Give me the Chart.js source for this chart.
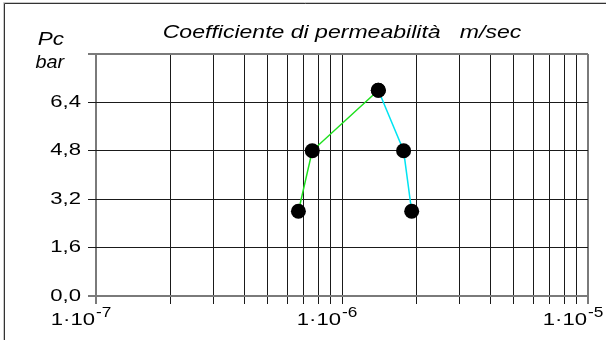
<!DOCTYPE html>
<html><head><meta charset="utf-8">
<script src="https://cdn.jsdelivr.net/npm/chart.js@4"></script>
<style>html,body{margin:0;padding:0;background:#fff}canvas{display:block}</style>
</head><body>
<canvas id="c" width="606" height="340"></canvas>
<script>
// ---- data ----
const greenX = [6.65e-7, 7.57e-7, 1.405e-6];
const greenY = [2.8, 4.8, 6.8];
const cyanX = [1.405e-6, 1.78e-6, 1.92e-6];
const cyanY = [6.8, 4.8, 2.8];
const yTickValues = [0, 1.6, 3.2, 4.8, 6.4, 8.0];
const yTickLabels = ['0,0', '1,6', '3,2', '4,8', '6,4', ''];
const xDecades = [1e-7, 1e-6, 1e-5];
const xDecadeExponents = ['-7', '-6', '-5'];
const xGridMultipliers = [1, 2, 3, 4, 5, 6, 7, 8, 9];
const titleText = 'Coefficiente di permeabilità   m/sec';
const yTitleLines = ['Pc', 'bar'];

// ---- helpers ----
const FONT = "'Liberation Sans', Arial, sans-serif";
const origFill = CanvasRenderingContext2D.prototype.fillText;
function stretchedFill(ctx, t, x, y, sx) {
  ctx.save(); ctx.translate(x, y); ctx.scale(sx, 1); origFill.call(ctx, t, 0, 0); ctx.restore();
}
const TICK_SX = 1.3;

const xGridValues = [];
for (let d = 0; d < xDecades.length - 1; d++) {
  for (const m of xGridMultipliers) xGridValues.push(m * xDecades[d]);
}
xGridValues.push(xDecades[xDecades.length - 1]);

const toPts = (xs, ys) => xs.map((x, i) => ({x, y: ys[i]}));

const edgeX = c => c.index === 0 || c.index === xGridValues.length - 1;
const edgeY = c => c.index === 0 || c.index === yTickValues.length - 1;

const decorPlugin = {
  id: 'decor',
  beforeDraw(chart) {
    const ctx = chart.ctx;
    ctx.fillText = function (t, x, y) { stretchedFill(this, t, x, y, TICK_SX); };
    ctx.save();
    ctx.fillStyle = '#fff';
    ctx.fillRect(0, 0, chart.width, chart.height);
    ctx.restore();
  },
  afterDraw(chart) {
    const ctx = chart.ctx;
    const a = chart.chartArea;
    ctx.save();
    // outer frame
    ctx.strokeStyle = '#c8c8c8'; ctx.lineWidth = 1;
    ctx.beginPath(); ctx.moveTo(3.5, 340); ctx.lineTo(3.5, 2.5); ctx.lineTo(606, 2.5); ctx.stroke();
    ctx.strokeStyle = '#333'; ctx.lineWidth = 1;
    ctx.beginPath(); ctx.moveTo(4.5, 340); ctx.lineTo(4.5, 3.5); ctx.lineTo(606, 3.5); ctx.stroke();

    ctx.fillStyle = '#000';
    // title
    ctx.font = 'italic 18px ' + FONT;
    ctx.textAlign = 'center'; ctx.textBaseline = 'alphabetic';
    stretchedFill(ctx, titleText, (a.left + a.right) / 2, 38, 1.28);
    // y title
    ctx.textAlign = 'right';
    stretchedFill(ctx, yTitleLines[0], 64, 45, 1.25);
    stretchedFill(ctx, yTitleLines[1], 64, 68, 1.1);
    // x decade labels
    const xs = chart.scales.x;
    xDecades.forEach((v, i) => {
      const px = xs.getPixelForValue(v);
      ctx.font = '17px ' + FONT;
      ctx.textAlign = 'right';
      stretchedFill(ctx, '1·10', px - 1, 325, TICK_SX);
      ctx.font = '15px ' + FONT;
      ctx.textAlign = 'left';
      stretchedFill(ctx, xDecadeExponents[i], px, 317, 1.15);
    });
    ctx.restore();
  }
};

new Chart(document.getElementById('c'), {
  type: 'scatter',
  data: {
    datasets: [
      {
        data: toPts(greenX.concat(cyanX), greenY.concat(cyanY)),
        showLine: false,
        pointRadius: 7.5, pointBorderWidth: 0,
        pointBackgroundColor: '#000', pointBorderColor: '#000'
      },
      {
        data: toPts(greenX, greenY),
        showLine: true, borderColor: '#1ee01e', borderWidth: 1.5,
        pointRadius: 0
      },
      {
        data: toPts(cyanX, cyanY),
        showLine: true, borderColor: '#00e4f2', borderWidth: 1.5,
        pointRadius: 0
      }
    ]
  },
  options: {
    responsive: false,
    devicePixelRatio: 1,
    animation: false,
    layout: { padding: { left: 0, right: 18, top: 54, bottom: 0 } },
    plugins: { legend: { display: false }, tooltip: { enabled: false }, title: { display: false } },
    scales: {
      x: {
        type: 'logarithmic',
        min: xDecades[0], max: xDecades[xDecades.length - 1],
        afterBuildTicks: s => { s.ticks = xGridValues.map(v => ({value: v})); },
        afterFit: s => { s.height = 44; },
        ticks: { autoSkip: false, maxRotation: 0, callback: () => '', font: { size: 16, family: FONT }, color: '#000' },
        border: { display: false },
        grid: {
          color: c => edgeX(c) ? '#7a7a7a' : '#1a1a1a',
          lineWidth: c => edgeX(c) ? 2 : 1,
          tickLength: 8, drawTicks: true
        }
      },
      y: {
        min: 0, max: 8,
        afterBuildTicks: s => { s.ticks = yTickValues.map(v => ({value: v})); },
        afterFit: s => { s.width = 96; },
        ticks: {
          autoSkip: false, padding: 7, color: '#000',
          font: { size: 17, family: FONT },
          callback: (v, i) => yTickLabels[i]
        },
        border: { display: false },
        grid: {
          color: c => edgeY(c) ? '#7a7a7a' : '#1a1a1a',
          lineWidth: c => edgeY(c) ? 2 : 1,
          tickLength: 8, drawTicks: true
        }
      }
    }
  },
  plugins: [decorPlugin]
});
</script>
</body></html>
